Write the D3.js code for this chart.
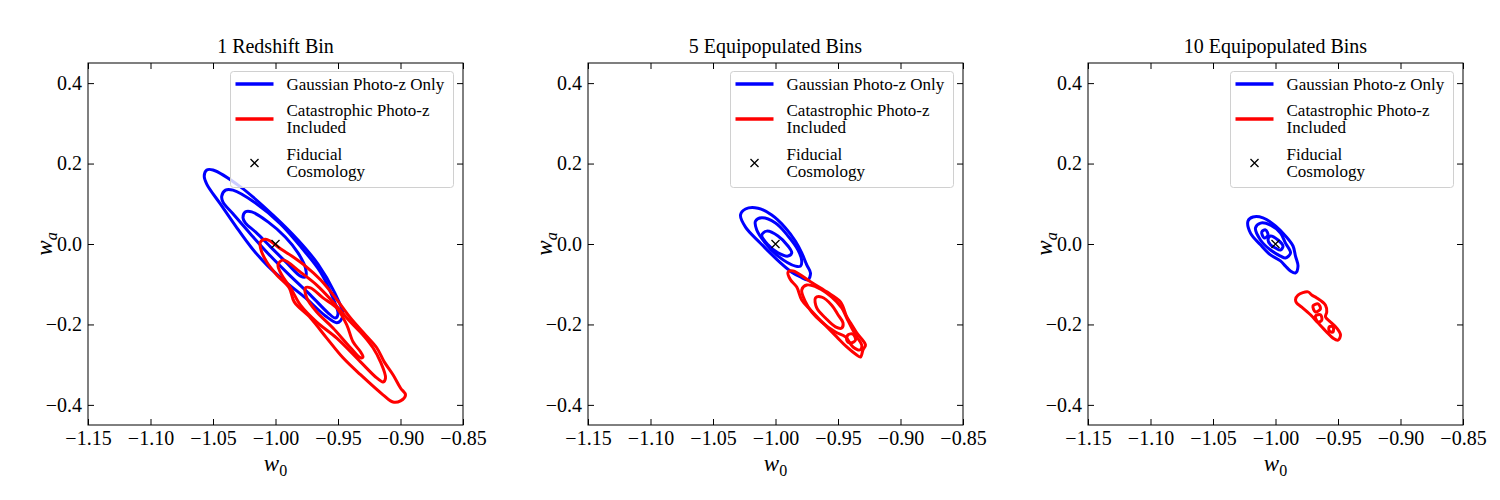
<!DOCTYPE html>
<html>
<head>
<meta charset="utf-8">
<script src="https://cdn.jsdelivr.net/npm/d3@7"></script>
<style>
  body { margin: 0; background: #fff; }
  text { font-family: "Liberation Serif", "Times New Roman", serif; }
</style>
</head>
<body>
<svg id="chart" width="1500" height="500"></svg>
<script>
// ---- data ----
var panelTitles = ["1 Redshift Bin", "5 Equipopulated Bins", "10 Equipopulated Bins"]
var xTicks = [-1.15, -1.10, -1.05, -1.00, -0.95, -0.90, -0.85]
var yTicks = [-0.4, -0.2, 0.0, 0.2, 0.4]
var fiducial = [-1.0, 0.0]
var legendLabels = [["Gaussian Photo-z Only"], ["Catastrophic Photo-z", "Included"], ["Fiducial", "Cosmology"]]

// contours as [w0, wa] points, outer to inner
var bin1Gauss = [
  [[-1.057,0.169],[-1.055,0.184],[-1.050,0.184],[-1.028,0.142],[-1.002,0.072],[-0.982,0.010],[-0.966,-0.050],[-0.953,-0.119],[-0.946,-0.174],[-0.948,-0.191],[-0.951,-0.196],[-0.960,-0.179],[-0.976,-0.134],[-0.992,-0.094],[-1.006,-0.055],[-1.019,-0.010],[-1.032,0.045],[-1.044,0.099],[-1.055,0.149]],
  [[-1.043,0.119],[-1.040,0.134],[-1.034,0.134],[-1.016,0.102],[-0.996,0.050],[-0.979,-0.010],[-0.964,-0.070],[-0.954,-0.134],[-0.950,-0.174],[-0.952,-0.184],[-0.958,-0.171],[-0.972,-0.127],[-0.988,-0.080],[-1.004,-0.030],[-1.020,0.025],[-1.034,0.075],[-1.042,0.104]],
  [[-1.026,0.065],[-1.024,0.080],[-1.019,0.080],[-1.006,0.055],[-0.992,0.017],[-0.982,-0.022],[-0.976,-0.060],[-0.976,-0.082],[-0.980,-0.080],[-0.991,-0.047],[-1.004,-0.007],[-1.016,0.030],[-1.024,0.052]]
]
var bin1Cat = [
  [[-1.012,-0.010],[-1.012,0.005],[-1.008,0.012],[-1.004,0.007],[-0.996,-0.012],[-0.987,-0.030],[-0.976,-0.055],[-0.964,-0.089],[-0.952,-0.134],[-0.940,-0.184],[-0.928,-0.226],[-0.919,-0.258],[-0.913,-0.293],[-0.906,-0.325],[-0.900,-0.358],[-0.896,-0.375],[-0.900,-0.390],[-0.906,-0.393],[-0.914,-0.375],[-0.932,-0.325],[-0.946,-0.283],[-0.959,-0.234],[-0.972,-0.184],[-0.985,-0.144],[-0.989,-0.109],[-0.999,-0.077],[-1.007,-0.045]],
  [[-0.998,-0.052],[-0.994,-0.040],[-0.980,-0.070],[-0.967,-0.102],[-0.954,-0.144],[-0.940,-0.194],[-0.930,-0.226],[-0.922,-0.258],[-0.916,-0.293],[-0.912,-0.333],[-0.914,-0.343],[-0.919,-0.333],[-0.932,-0.293],[-0.951,-0.234],[-0.967,-0.194],[-0.980,-0.152],[-0.988,-0.109],[-0.995,-0.077]],
  [[-0.976,-0.109],[-0.972,-0.109],[-0.962,-0.134],[-0.951,-0.159],[-0.943,-0.201],[-0.938,-0.243],[-0.932,-0.268],[-0.930,-0.281],[-0.932,-0.283],[-0.940,-0.258],[-0.954,-0.209],[-0.967,-0.169],[-0.975,-0.134]]
]
var bin5Gauss = [
  [[-1.028,0.072],[-1.024,0.087],[-1.014,0.089],[-1.003,0.072],[-0.992,0.040],[-0.984,0.007],[-0.979,-0.022],[-0.975,-0.052],[-0.972,-0.072],[-0.974,-0.089],[-0.980,-0.082],[-0.987,-0.070],[-0.996,-0.047],[-1.012,0.002],[-1.024,0.042]],
  [[-1.016,0.057],[-1.011,0.065],[-1.000,0.052],[-0.990,0.020],[-0.982,-0.015],[-0.979,-0.042],[-0.980,-0.055],[-0.984,-0.055],[-0.998,-0.030],[-1.008,0.002],[-1.015,0.035]],
  [[-1.011,0.022],[-1.007,0.032],[-0.998,0.020],[-0.990,-0.005],[-0.987,-0.022],[-0.990,-0.030],[-0.998,-0.022],[-1.006,-0.002]]
]
var bin5Cat = [
  [[-0.990,-0.070],[-0.986,-0.067],[-0.972,-0.094],[-0.959,-0.119],[-0.948,-0.144],[-0.943,-0.181],[-0.940,-0.196],[-0.935,-0.221],[-0.928,-0.251],[-0.930,-0.263],[-0.932,-0.281],[-0.935,-0.276],[-0.943,-0.256],[-0.951,-0.231],[-0.962,-0.196],[-0.972,-0.164],[-0.979,-0.139],[-0.983,-0.107],[-0.988,-0.089]],
  [[-0.979,-0.114],[-0.975,-0.102],[-0.966,-0.109],[-0.955,-0.132],[-0.947,-0.159],[-0.943,-0.184],[-0.939,-0.209],[-0.935,-0.231],[-0.931,-0.251],[-0.932,-0.263],[-0.938,-0.256],[-0.944,-0.231],[-0.952,-0.219],[-0.963,-0.194],[-0.971,-0.169],[-0.976,-0.144]],
  [[-0.968,-0.134],[-0.963,-0.132],[-0.955,-0.152],[-0.950,-0.176],[-0.946,-0.196],[-0.947,-0.209],[-0.952,-0.206],[-0.960,-0.184],[-0.967,-0.159]],
  [[-0.942,-0.226],[-0.938,-0.224],[-0.936,-0.239],[-0.940,-0.246],[-0.943,-0.239]]
]
var bin10Gauss = [
  [[-1.022,0.057],[-1.018,0.067],[-1.010,0.065],[-1.000,0.045],[-0.992,0.020],[-0.986,-0.005],[-0.984,-0.030],[-0.982,-0.055],[-0.984,-0.072],[-0.988,-0.067],[-0.992,-0.055],[-0.996,-0.042],[-1.004,-0.027],[-1.012,-0.002],[-1.020,0.027]],
  [[-1.016,0.040],[-1.012,0.052],[-1.004,0.047],[-0.996,0.027],[-0.992,0.002],[-0.988,-0.022],[-0.992,-0.035],[-0.996,-0.030],[-1.004,-0.015],[-1.012,0.010]],
  [[-1.006,0.010],[-1.004,0.020],[-0.998,0.010],[-0.994,-0.005],[-0.996,-0.015],[-1.000,-0.010],[-1.004,-0.002]],
  [[-1.011,0.030],[-1.008,0.035],[-1.006,0.022],[-1.009,0.015]]
]
var bin10Cat = [
  [[-0.984,-0.139],[-0.982,-0.127],[-0.974,-0.119],[-0.971,-0.127],[-0.967,-0.134],[-0.960,-0.152],[-0.959,-0.169],[-0.960,-0.181],[-0.956,-0.194],[-0.951,-0.209],[-0.948,-0.226],[-0.950,-0.239],[-0.954,-0.234],[-0.959,-0.219],[-0.966,-0.196],[-0.972,-0.176],[-0.979,-0.157],[-0.983,-0.147]],
  [[-0.970,-0.154],[-0.966,-0.149],[-0.964,-0.161],[-0.968,-0.169]],
  [[-0.968,-0.179],[-0.964,-0.176],[-0.963,-0.189],[-0.966,-0.194]],
  [[-0.957,-0.206],[-0.954,-0.206],[-0.954,-0.219],[-0.957,-0.216]]
]
var gaussContours = [bin1Gauss, bin5Gauss, bin10Gauss]
var catContours = [bin1Cat, bin5Cat, bin10Cat]

// ---- layout ----
var dimensions = {
  width: 1500,
  height: 500,
  panelLeft: [88, 588, 1088],
  top: 63,
  plotWidth: 375,
  plotHeight: 362
}
var blue = "#0000ff", red = "#ff0000"

var svg = d3.select("#chart")

var xScale = d3.scaleLinear().domain([-1.15, -0.85]).range([0, dimensions.plotWidth])
var yScale = d3.scaleLinear().domain([-0.45, 0.45]).range([dimensions.plotHeight, 0])

var contourLine = d3.line()
  .x(d => xScale(d[0]))
  .y(d => yScale(d[1]))
  .curve(d3.curveCatmullRomClosed.alpha(0.5))

var fmt = d3.format(".2f")
var fmtY = d3.format(".1f")

svg.append("defs").append("clipPath").attr("id", "plotclip")
  .append("rect").attr("width", dimensions.plotWidth).attr("height", dimensions.plotHeight)

panelTitles.forEach(function(title, i) {
  var g = svg.append("g").attr("transform", "translate(" + dimensions.panelLeft[i] + "," + dimensions.top + ")")

  // contours
  var plot = g.append("g").attr("clip-path", "url(#plotclip)")
  plot.selectAll(".gauss").data(gaussContours[i]).enter().append("path")
    .attr("d", contourLine).attr("fill", "none").attr("stroke", blue)
    .attr("stroke-width", 3).attr("stroke-linejoin", "round")
  plot.selectAll(".cat").data(catContours[i]).enter().append("path")
    .attr("d", contourLine).attr("fill", "none").attr("stroke", red)
    .attr("stroke-width", 3).attr("stroke-linejoin", "round")

  // fiducial marker
  var fx = xScale(fiducial[0]), fy = yScale(fiducial[1]), m = 4
  plot.append("path")
    .attr("d", "M" + (fx - m) + "," + (fy - m) + "L" + (fx + m) + "," + (fy + m) + "M" + (fx - m) + "," + (fy + m) + "L" + (fx + m) + "," + (fy - m))
    .attr("stroke", "black").attr("stroke-width", 1.3)

  // axes, ticks pointing inward on all sides
  var xAxis = g.append("g").attr("transform", "translate(0," + dimensions.plotHeight + ")")
    .call(d3.axisBottom(xScale).tickValues(xTicks).tickSize(-6).tickSizeOuter(0).tickPadding(6).tickFormat(fmt))
  var xTop = g.append("g")
    .call(d3.axisTop(xScale).tickValues(xTicks).tickSize(-6).tickSizeOuter(0).tickFormat(""))
  var yAxis = g.append("g")
    .call(d3.axisLeft(yScale).tickValues(yTicks).tickSize(-6).tickSizeOuter(0).tickPadding(6).tickFormat(fmtY))
  var yRight = g.append("g").attr("transform", "translate(" + dimensions.plotWidth + ",0)")
    .call(d3.axisRight(yScale).tickValues(yTicks).tickSize(-6).tickSizeOuter(0).tickFormat(""))
  ;[xAxis, xTop, yAxis, yRight].forEach(function(a) {
    a.select(".domain").remove()
    a.selectAll("line").attr("stroke", "black").attr("stroke-width", 1)
    a.selectAll("text").style("font-family", "'Liberation Serif', 'Times New Roman', serif").style("font-size", "20px").attr("fill", "black")
  })

  g.append("rect").attr("width", dimensions.plotWidth).attr("height", dimensions.plotHeight)
    .attr("fill", "none").attr("stroke", "black").attr("stroke-width", 1)

  // title
  g.append("text").attr("x", dimensions.plotWidth / 2).attr("y", -10)
    .attr("text-anchor", "middle").style("font-size", "20px").text(title)

  // axis labels
  var xl = g.append("text").attr("x", dimensions.plotWidth / 2).attr("y", dimensions.plotHeight + 46)
    .attr("text-anchor", "middle").style("font-size", "23px")
  xl.append("tspan").style("font-style", "italic").text("w")
  xl.append("tspan").attr("dy", 5).style("font-size", "16px").text("0")

  var yl = g.append("text").attr("transform", "translate(-36," + (dimensions.plotHeight / 2) + ") rotate(-90)")
    .attr("text-anchor", "middle").style("font-size", "23px")
  yl.append("tspan").style("font-style", "italic").text("w")
  yl.append("tspan").attr("dy", 5).style("font-size", "16px").style("font-style", "italic").text("a")

  // legend
  var lg = g.append("g").attr("transform", "translate(142.5,8.5)")
  lg.append("rect").attr("width", 223).attr("height", 116).attr("rx", 3)
    .attr("fill", "white").attr("fill-opacity", 0.8).attr("stroke", "#d0d0d0").attr("stroke-width", 1)
  var rowY = [12.5, 47.5, 91.5]
  lg.append("line").attr("x1", 5).attr("x2", 43).attr("y1", rowY[0]).attr("y2", rowY[0])
    .attr("stroke", blue).attr("stroke-width", 3.5)
  lg.append("line").attr("x1", 5).attr("x2", 43).attr("y1", rowY[1]).attr("y2", rowY[1])
    .attr("stroke", red).attr("stroke-width", 3.5)
  lg.append("path").attr("d", "M20,87.5L28,95.5M20,95.5L28,87.5").attr("stroke", "black").attr("stroke-width", 1.3)
  legendLabels.forEach(function(lines, k) {
    var n = lines.length
    lines.forEach(function(s, j) {
      lg.append("text").attr("x", 56).attr("y", rowY[k] + (j - (n - 1) / 2) * 17.5)
        .attr("dy", "0.33em").style("font-size", "17px").text(s)
    })
  })
})
</script>
</body>
</html>
